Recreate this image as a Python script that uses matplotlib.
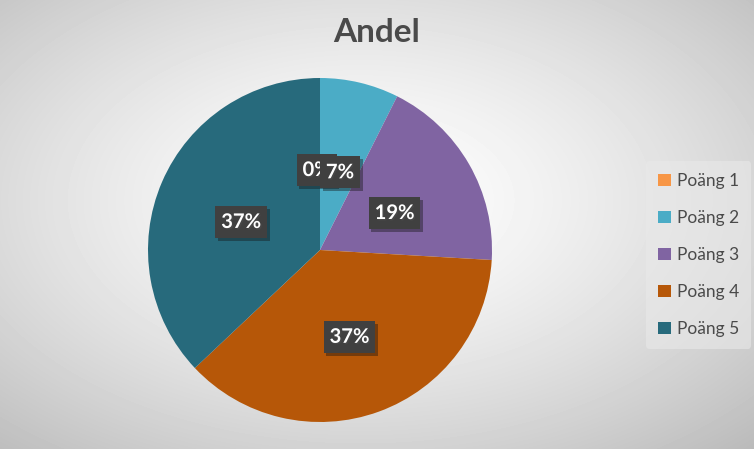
import numpy as np
import matplotlib
matplotlib.use("Agg")
import matplotlib.pyplot as plt
import matplotlib.patheffects as pe

# Data
categories = ["Poäng 1", "Poäng 2", "Poäng 3", "Poäng 4", "Poäng 5"]
counts = [0, 2, 5, 10, 10]
colors = ["#F79646", "#4BACC6", "#8064A2", "#B65708", "#276A7C"]
title = "Andel"

plt.rcParams['font.family'] = ['Lato', 'DejaVu Sans']

W, H = 754, 449
fig = plt.figure(figsize=(W / 100, H / 100), dpi=100)

# radial gradient background
bg = fig.add_axes([0, 0, 1, 1])
yy, xx = np.mgrid[0:H, 0:W]
r = np.hypot((xx - 360) / W, (yy - 200) / H)
r = r / r.max()
val = 1 - 0.27 * np.clip(r, 0, 1) ** 1.4
bg.imshow(val, cmap='gray', vmin=0, vmax=1, aspect='auto', extent=[0, 1, 0, 1])
bg.axis('off')

# pie axes: center (320, 250) px, radius 172 px
R = 172
ax = fig.add_axes([(320 - R) / W, (H - 250 - R) / H, 2 * R / W, 2 * R / H])
wedges, texts, autotexts = ax.pie(
    counts, colors=colors, startangle=90, counterclock=False,
    autopct='%1.0f%%', pctdistance=0.5, radius=1,
    wedgeprops=dict(linewidth=0),
    textprops=dict(color='white', fontsize=14.5, fontweight='bold'))
ax.set_xlim(-1, 1)
ax.set_ylim(-1, 1)
ax.set_aspect('equal')

for t in autotexts:
    t.set_bbox(dict(facecolor='#404040', edgecolor='none', boxstyle='square,pad=0.3'))
    t.get_bbox_patch().set_path_effects([pe.SimplePatchShadow(offset=(2, -2), alpha=0.4), pe.Normal()])
    t.set_path_effects([pe.withSimplePatchShadow(offset=(1, -1), alpha=0.6)])
    x, y = t.get_position()
    t.set_position((x, y - 0.035))

# nudge the 0% label left, as in the original
x0, y0 = autotexts[0].get_position()
autotexts[0].set_position((x0 - 0.02, y0))

fig.text(0.5, 1 - 32 / H, title, ha='center', va='center', fontsize=24,
         fontweight='bold', color='#4a4a4a')

leg = fig.legend(wedges, categories, loc='center left',
                 bbox_to_anchor=(641 / W, 1 - 255 / H), frameon=True,
                 fontsize=12.5, labelspacing=1.2, handlelength=0.7, handleheight=0.7,
                 handletextpad=0.35, borderpad=0.7, borderaxespad=0.3)
leg.get_frame().set_facecolor('#e9e9e9')
leg.get_frame().set_edgecolor('none')
leg.get_frame().set_alpha(0.6)
for txt in leg.get_texts():
    txt.set_color('#4a4a4a')

fig.savefig("out.png", dpi=100)
